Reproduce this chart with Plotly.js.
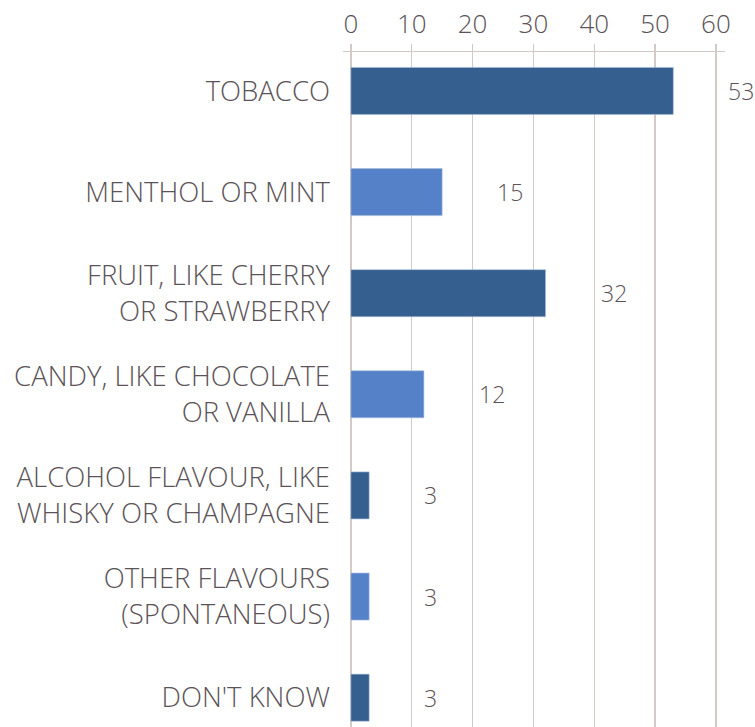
<!DOCTYPE html>
<html>
<head>
<meta charset="utf-8">
<script src="https://cdn.plot.ly/plotly-3.0.1.min.js"></script>
<style>html,body{margin:0;padding:0;background:#fff;}#chart{width:755px;height:727px;}</style>
</head>
<body>
<div id="chart"></div>
<script>
const categories = [
  "TOBACCO",
  "MENTHOL OR MINT",
  "FRUIT, LIKE CHERRY<br>OR STRAWBERRY",
  "CANDY, LIKE CHOCOLATE<br>OR VANILLA",
  "ALCOHOL FLAVOUR, LIKE<br>WHISKY OR CHAMPAGNE",
  "OTHER FLAVOURS<br>(SPONTANEOUS)",
  "DON'T KNOW"
];
const values = [53, 15, 32, 12, 3, 3, 3];
const tickValues = [0, 10, 20, 30, 40, 50, 60];

const dark = "#355f8f";
const light = "#5581c9";
const textColor = "#5b5357";
const gridColor = "#d3cac6";

const trace = {
  type: "bar",
  orientation: "h",
  y: categories,
  x: values,
  width: 0.465,
  marker: {
    color: values.map((v, i) => i % 2 === 0 ? dark : light),
    line: {color: "#a9bedb", width: 0.6}
  },
  hoverinfo: "none"
};

const annotations = values.map((v, i) => ({
  x: v, y: categories[i], xref: "x", yref: "y",
  text: String(v), showarrow: false, xanchor: "left", xshift: 53,
  font: {family: "Open Sans, sans-serif", size: 23, color: textColor, weight: 300}
}));

const layout = {
  width: 755, height: 727,
  margin: {l: 343, r: 30, t: 52, b: 0, pad: 0},
  paper_bgcolor: "#fff", plot_bgcolor: "#fff",
  showlegend: false,
  font: {family: "Open Sans, sans-serif", color: textColor, weight: 300},
  xaxis: {
    side: "top",
    range: [-1.3, 61.5],
    tickvals: tickValues,
    ticktext: tickValues.map(String),
    tickfont: {size: 26, color: textColor, weight: 300},
    showgrid: true, gridcolor: gridColor, gridwidth: 1.3,
    zeroline: false,
    showline: true, linecolor: gridColor, linewidth: 1.3,
    ticks: "outside", ticklen: 7, tickcolor: gridColor, tickwidth: 1.3,
    fixedrange: true
  },
  yaxis: {
    type: "category",
    range: [6.29, -0.385],
    tickfont: {size: 27.5, color: textColor, weight: 300},
    showgrid: false, zeroline: false, showline: false,
    ticks: "", ticklabelstandoff: 12,
    fixedrange: true
  },
  annotations: annotations
};

Plotly.newPlot("chart", [trace], layout, {displayModeBar: false, staticPlot: true});
</script>
</body>
</html>
